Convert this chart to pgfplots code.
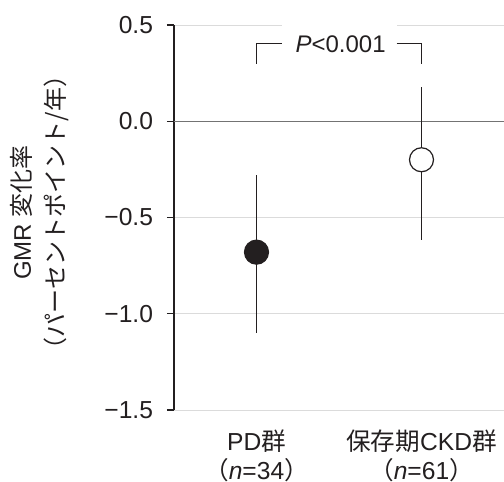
\documentclass[border=0pt]{standalone}
\usepackage{pgfplots}
\pgfplotsset{compat=1.18}
\usepackage{fontspec}
\setmainfont{Liberation Sans}
\newfontfamily\cjk{Noto Sans CJK JP}
\definecolor{ink}{HTML}{231F20}
\begin{document}
\begin{tikzpicture}[font=\fontsize{12bp}{14.5bp}\selectfont, color=ink]
\begin{axis}[
  scale only axis, width=165bp, height=192.5bp,
  xmin=0.5, xmax=2.5, ymin=-1.5, ymax=0.5,
  clip=false,
  axis lines*=left,
  x axis line style={draw=none},
  y axis line style={line width=0.6bp, ink},
  xtick={1,2},
  xticklabels={{PD{\cjk 群}\\{\cjk （}\textit{n}=34{\cjk ）}},{{\cjk 保存期}CKD{\cjk 群}\\{\cjk （}\textit{n}=61{\cjk ）}}},
  xticklabel style={align=center, anchor=north, yshift=-3bp, font=\fontsize{12.3bp}{14.5bp}\selectfont},
  x tick style={draw=none},
  ytick={-1.5,-1,-0.5,0,0.5},
  yticklabels={−1.5,−1.0,−0.5,0.0,0.5},
  yticklabel style={font=\fontsize{12.3bp}{14.5bp}\selectfont, xshift=-3.5bp},
  tick align=outside, major tick length=3.5bp,
  y tick style={line width=0.6bp, ink},
  ymajorgrids, grid style={line width=0.5bp, black!14},
]
\draw[line width=0.5bp, black!55] (axis cs:0.5,0) -- (axis cs:2.5,0);
\fill[white] (axis cs:1.153,0.47) rectangle (axis cs:1.849,0.53);
\addplot[only marks, mark=*, mark size=6bp, mark options={fill=ink, draw=ink, line width=0.6bp},
  error bars/.cd, y dir=both, y explicit, error mark=none,
  error bar style={line width=0.6bp, ink}]
  coordinates {(1,-0.68) += (0,0.40) -= (0,0.42)};
\addplot[only marks, mark=*, mark size=6bp, mark options={fill=white, draw=ink, line width=0.6bp},
  error bars/.cd, y dir=both, y explicit, error mark=none,
  error bar style={line width=0.6bp, ink}]
  coordinates {(2,-0.20) += (0,0.38) -= (0,0.415)};
\draw[line width=0.6bp, ink] (axis cs:1,0.30) -- (axis cs:1,0.405) -- (axis cs:1.153,0.405);
\draw[line width=0.6bp, ink] (axis cs:1.849,0.405) -- (axis cs:2,0.405) -- (axis cs:2,0.30);
\node[ink] at (axis cs:1.51,0.40) {\textit{P}<0.001};
\end{axis}
\node[rotate=90, align=center, ink] at (-67bp,98.75bp) {GMR {\cjk 変化率}\\[2.5bp]{\cjk （パーセントポイント/年）}};
\pgfresetboundingbox
\path (-87bp,-36bp) rectangle (165bp,205bp);
\end{tikzpicture}
\end{document}
